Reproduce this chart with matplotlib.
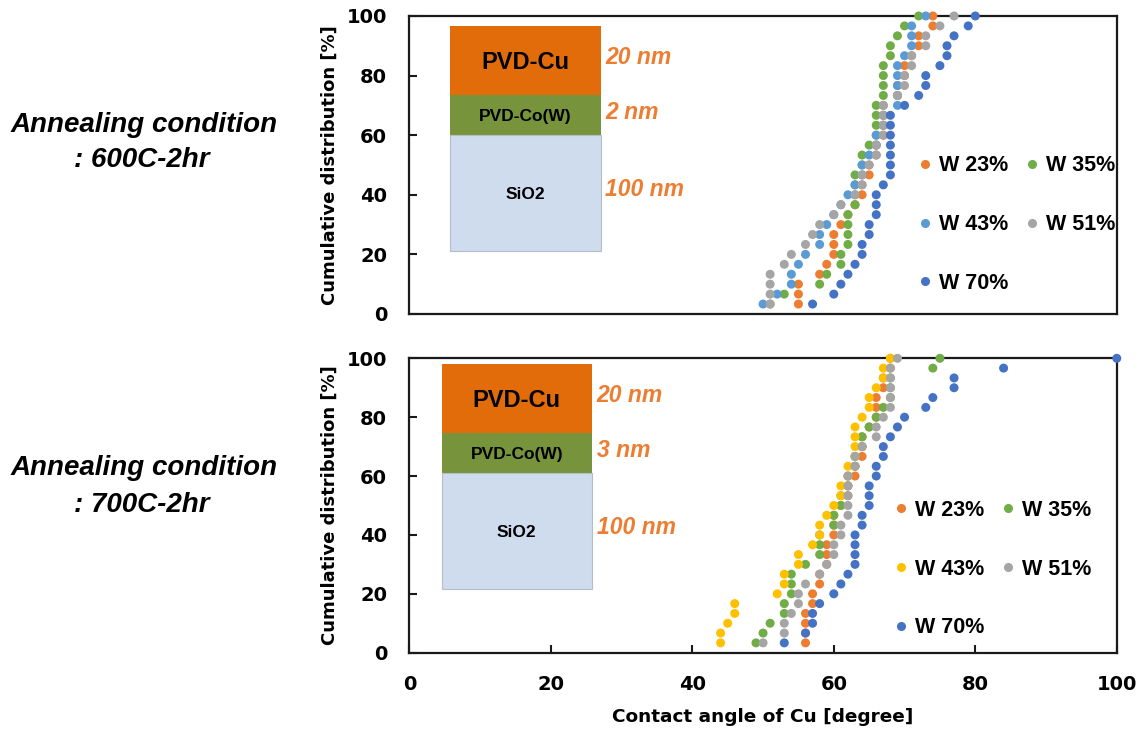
import numpy as np
import matplotlib
matplotlib.use("Agg")
import matplotlib.pyplot as plt
from matplotlib.patches import Rectangle
from matplotlib.lines import Line2D

plt.rcParams['font.family'] = ['Liberation Sans', 'DejaVu Sans']

# Contact angle of Cu [degree], 30 islands per sample, sorted
labels_600 = ["W 23%", "W 35%", "W 43%", "W 51%", "W 70%"]
angle_600 = {
    "W 23%": [55, 55, 55, 58, 59, 60, 60, 60, 61, 62, 63, 64, 64, 65, 65,
              66, 66, 67, 67, 67, 67, 69, 69, 70, 70, 71, 72, 72, 74, 74],
    "W 35%": [51, 53, 58, 59, 61, 61, 62, 62, 62, 62, 63, 63, 63, 63, 64,
              64, 65, 66, 66, 66, 66, 67, 67, 67, 67, 68, 68, 69, 70, 72],
    "W 43%": [50, 52, 54, 54, 55, 56, 58, 58, 59, 60, 61, 62, 63, 64, 64,
              65, 66, 66, 67, 67, 69, 69, 69, 69, 69, 70, 71, 71, 71, 73],
    "W 51%": [51, 51, 51, 51, 53, 54, 56, 57, 58, 60, 61, 63, 64, 64, 65,
              66, 66, 67, 67, 67, 67, 69, 70, 70, 71, 71, 73, 73, 75, 77],
    "W 70%": [57, 60, 61, 62, 63, 64, 64, 65, 65, 66, 66, 66, 67, 68, 68,
              68, 68, 68, 68, 68, 70, 72, 73, 73, 75, 76, 76, 77, 79, 80],
}
colors_600 = ["#ED7D31", "#70AD47", "#5B9BD5", "#A5A5A5", "#4472C4"]

labels_700 = ["W 23%", "W 35%", "W 43%", "W 51%", "W 70%"]
angle_700 = {
    "W 23%": [56, 56, 56, 56, 57, 57, 58, 58, 59, 59, 59, 60, 60, 60, 61,
              62, 62, 63, 63, 64, 64, 64, 65, 66, 66, 66, 67, 67, 68, 68],
    "W 35%": [49, 50, 51, 53, 53, 54, 54, 54, 56, 58, 58, 58, 60, 60, 61,
              61, 62, 62, 63, 63, 64, 64, 65, 66, 67, 68, 68, 68, 74, 75],
    "W 43%": [44, 44, 45, 46, 46, 52, 53, 53, 55, 55, 57, 58, 58, 59, 60,
              61, 61, 62, 62, 63, 63, 63, 63, 64, 65, 65, 66, 67, 67, 68],
    "W 51%": [50, 53, 53, 54, 55, 55, 56, 58, 59, 60, 60, 61, 61, 62, 62,
              62, 62, 62, 63, 63, 64, 66, 66, 67, 68, 68, 68, 68, 68, 69],
    "W 70%": [53, 56, 57, 57, 58, 60, 61, 62, 63, 63, 63, 63, 64, 64, 65,
              65, 65, 66, 66, 67, 67, 68, 69, 70, 73, 74, 77, 77, 84, 100],
}
colors_700 = ["#ED7D31", "#70AD47", "#FFC000", "#A5A5A5", "#4472C4"]

# layer stacks drawn in the corner of each panel
stack_600 = ["PVD-Cu", "PVD-Co(W)", "SiO2"]
thick_600 = ["20 nm", "2 nm", "100 nm"]
stack_700 = ["PVD-Cu", "PVD-Co(W)", "SiO2"]
thick_700 = ["20 nm", "3 nm", "100 nm"]
layer_colors = ["#E36C0A", "#77933C", "#CFDCEE"]
layer_font = [17, 12.5, 12.5]

TXT_ORANGE = "#ED7D31"
SPINE = "#1a1a1a"
AXFONT = ['DejaVu Sans']

fig = plt.figure(figsize=(11.44, 7.29), dpi=100)
ax1 = fig.add_axes([0.3578, 0.5693, 0.6184, 0.4088])
ax2 = fig.add_axes([0.3578, 0.1047, 0.6184, 0.4038])


def draw_panel(ax, labels, data, colors, legend_xy):
    handles = []
    for lab, col in zip(labels, colors):
        vals = np.sort(np.array(data[lab], dtype=float))
        cum = np.arange(1, len(vals) + 1) / len(vals) * 100
        ax.scatter(vals, cum, s=42, color=col, edgecolors='none',
                   clip_on=False, zorder=3)
        handles.append(Line2D([], [], ls='none', marker='o', ms=5.5,
                              color=col, label=lab))
    ax.set_xlim(0, 100)
    ax.set_ylim(0, 100)
    ax.set_yticks(range(0, 101, 20))
    ax.set_xticks(range(0, 101, 20))
    ax.tick_params(direction='in', length=6, width=1.5, color=SPINE,
                   labelsize=14, pad=16)
    for lbl in ax.get_yticklabels() + ax.get_xticklabels():
        lbl.set_fontweight('bold')
        lbl.set_family(AXFONT)
    for sp in ax.spines.values():
        sp.set_linewidth(1.6)
        sp.set_color(SPINE)
    ax.set_ylabel("Cumulative distribution [%]", fontsize=13,
                  fontweight='bold', family=AXFONT, labelpad=6)
    # row-wise order: 23/35, 43/51, 70
    order = [0, 2, 4, 1, 3]
    ax.legend([handles[i] for i in order], [labels[i] for i in order],
              ncol=2, frameon=False, loc='upper left',
              bbox_to_anchor=legend_xy, prop={'weight': 'bold', 'size': 15.5},
              labelspacing=1.75, columnspacing=0.8, handlelength=0.6,
              handletextpad=0.35, borderaxespad=0, borderpad=0)


def draw_stack(ax, x0, x1, ys, names, thick, thick_x):
    for k in range(3):
        ax.add_patch(Rectangle((x0, ys[k + 1]), x1 - x0, ys[k] - ys[k + 1],
                               transform=ax.transAxes, facecolor=layer_colors[k],
                               edgecolor='#B4BCC8' if k == 2 else 'none',
                               linewidth=0.8, zorder=1))
        ax.text((x0 + x1) / 2, (ys[k] + ys[k + 1]) / 2 - 0.006, names[k],
                transform=ax.transAxes, ha='center', va='center',
                fontsize=layer_font[k], fontweight='bold', zorder=2)
        ax.text(thick_x, (ys[k] + ys[k + 1]) / 2 + 0.01, thick[k],
                transform=ax.transAxes, ha='left', va='center', fontsize=16.5,
                fontweight='bold', style='italic', color=TXT_ORANGE, zorder=2)


draw_panel(ax1, labels_600, angle_600, colors_600, (0.7197, 0.532))
draw_panel(ax2, labels_700, angle_700, colors_700, (0.6858, 0.5187))

ax1.tick_params(axis='x', length=0, labelbottom=False)
ax2.set_xlabel("Contact angle of Cu [degree]", fontsize=13.3,
               fontweight='bold', family=AXFONT, labelpad=10)

draw_stack(ax1, 0.0575, 0.2705, [0.966, 0.734, 0.601, 0.212],
           stack_600, thick_600, 0.277)
draw_stack(ax2, 0.0458, 0.2578, [0.981, 0.745, 0.611, 0.217],
           stack_700, thick_700, 0.265)

# annealing condition captions on the left
for y1, y2, cond in [(125, 160, ": 600C-2hr"), (468, 505, ": 700C-2hr")]:
    fig.text(144 / 1144, 1 - y1 / 729, "Annealing condition", ha='center',
             va='center', fontsize=20, fontweight='bold', style='italic')
    fig.text(142 / 1144, 1 - y2 / 729, cond, ha='center', va='center',
             fontsize=20, fontweight='bold', style='italic')

fig.savefig("out.png", dpi=100)
